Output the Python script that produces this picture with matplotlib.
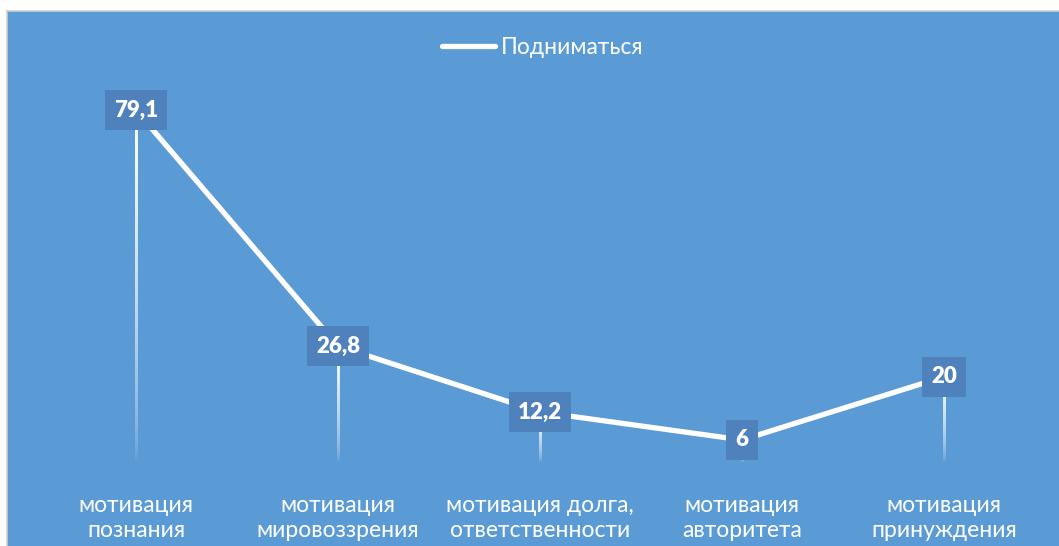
import numpy as np
import matplotlib
matplotlib.use("Agg")
import matplotlib.pyplot as plt
from matplotlib.colors import LinearSegmentedColormap

categories = ["мотивация\nпознания", "мотивация\nмировоззрения",
              "мотивация долга,\nответственности", "мотивация\nавторитета",
              "мотивация\nпринуждения"]
values = [79.1, 26.8, 12.2, 6, 20]
labels = ["79,1", "26,8", "12,2", "6", "20"]
series_name = "Подниматься"

BG = "#5B9BD5"
BOX = "#4F81BD"
plt.rcParams['font.family'] = ['Lato', 'DejaVu Sans']

fig = plt.figure(figsize=(10.59, 5.46), dpi=100, facecolor="white")
W, H = 1059, 546

# blue chart area with thin grey border (top/left)
bg = fig.add_axes([7 / W, -0.01, 1, 1.01 - 11 / H], zorder=-5)
bg.set_facecolor(BG)
bg.set_xticks([])
bg.set_yticks([])
for k, s in bg.spines.items():
    s.set_color("#D0D0D0")
    s.set_linewidth(1.2)
    if k in ("right", "bottom"):
        s.set_visible(False)

ax = fig.add_axes([35 / W, (H - 467) / H, 1010 / W, 406 / H], zorder=1)
ax.set_facecolor("none")
x = np.arange(len(values))

# drop lines fading downward (white -> transparent)
fade = LinearSegmentedColormap.from_list("fade", [(1, 1, 1, 0), (1, 1, 1, 1)])
grad = (np.linspace(0, 1, 256) ** 0.6)[:, None]
for xi, v in zip(x, values):
    ax.imshow(grad, cmap=fade, origin="lower", aspect="auto", interpolation="bilinear",
              extent=(xi - 0.0055, xi + 0.0055, 1.0, v), zorder=2)

ax.plot(x, values, color="white", linewidth=3.8, solid_capstyle="round", zorder=3,
        label=series_name)

for xi, v, lab in zip(x, values, labels):
    ax.text(xi, v, lab, ha="center", va="center", color="white", fontsize=16,
            fontweight="heavy", zorder=5,
            bbox=dict(boxstyle="square,pad=0.42", facecolor=BOX, edgecolor="none"))

ax.set_xlim(-0.5, len(values) - 0.5)
ax.set_ylim(0, 90)
ax.set_xticks(x)
ax.set_xticklabels(categories, color="white", fontsize=16.5, linespacing=1.25)
ax.tick_params(axis="x", length=0, pad=20)
ax.set_yticks([])
for s in ax.spines.values():
    s.set_visible(False)

leg = ax.legend(loc="center", bbox_to_anchor=(543 / W, 1 - 48 / H),
                bbox_transform=fig.transFigure, frameon=False,
                fontsize=16.5, handlelength=2.3, handletextpad=0.25)
for t in leg.get_texts():
    t.set_color("white")

fig.savefig("out.png", dpi=100, facecolor="white")
